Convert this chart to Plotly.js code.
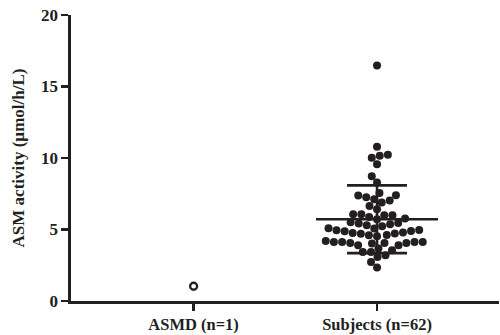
<!DOCTYPE html>
<html>
<head>
<meta charset="utf-8">
<script src="https://cdn.plot.ly/plotly-3.0.1.min.js"></script>
<style>html,body{margin:0;padding:0;background:#fff;}#chart{width:500px;height:335px;}</style>
</head>
<body>
<div id="chart"></div>
<script>
// ---- data ----
const categories = ['ASMD (n=1)', 'Subjects (n=62)'];
const categoryPositions = [1, 2];
const asmdValues = [1.03];
const subjectValues = [
  16.46, 10.78, 10.22, 10.01, 10.15, 9.57, 8.73, 8.29, 7.40, 7.38, 7.56, 7.12, 6.89, 7.03, 7.26, 6.42, 6.65,
  6.07, 6.00, 5.88, 5.77, 5.46, 5.30,
  5.37, 5.42, 5.51, 5.72, 5.99, 6.06,
  5.23, 5.07, 4.95, 4.88, 4.76, 4.72, 4.60,
  4.53, 4.61, 4.71, 4.79, 4.90, 4.96, 5.08,
  4.20, 4.13, 4.13, 4.13, 4.06, 3.90,
  3.90, 4.02, 4.06, 4.06, 4.13,
  3.67, 3.43, 3.43, 3.55, 3.08, 3.20, 2.73, 2.34
];
const yTickValues = [0, 5, 10, 15, 20];
const yTitle = 'ASM activity (µmol/h/L)';

// ---- layout constants ----
const W = 500, H = 335;
const M = {l: 71, r: 1, t: 15, b: 34};
const xRange = [0.3315, 2.665];
const yRange = [0, 20];
const ink = '#231f20';
const dotSize = 8.2;
const sx = (W - M.l - M.r) / (xRange[1] - xRange[0]);
const sy = (H - M.t - M.b) / (yRange[1] - yRange[0]);

// simple beeswarm placement (ascending order, nearest-to-centre free slot)
function beeswarm(values, diam) {
  const idx = values.map((v, i) => i).sort((a, b) => values[a] - values[b]);
  const placed = [];
  const offs = new Array(values.length);
  for (const i of idx) {
    const y = values[i] * sy;
    const cands = [0];
    for (const p of placed) {
      const dy = Math.abs(p.y - y);
      if (dy < diam) {
        const dx = Math.sqrt(diam * diam - dy * dy);
        cands.push(p.x + dx, p.x - dx);
      }
    }
    cands.sort((a, b) => Math.abs(a) - Math.abs(b) || a - b);
    let best = 0;
    for (const c of cands) {
      if (placed.every(p => (p.x - c) ** 2 + (p.y - y) ** 2 >= diam * diam - 1e-6)) { best = c; break; }
    }
    placed.push({x: best, y: y});
    offs[i] = best / sx;
  }
  return offs;
}

const subjOffsets = beeswarm(subjectValues, dotSize);
const subjX = subjOffsets.map(o => categoryPositions[1] + o);

const n = subjectValues.length;
const mean = subjectValues.reduce((a, b) => a + b, 0) / n;
const sd = Math.sqrt(subjectValues.reduce((a, b) => a + (b - mean) ** 2, 0) / (n - 1));

const meanHalf = 61 / sx;
const capHalf = 30 / sx;
const cx = categoryPositions[1];

const lineStyle = {color: ink, width: 2.6};
const traces = [
  {type: 'scatter', mode: 'markers', x: subjX, y: subjectValues,
   marker: {size: 8, color: ink, line: {width: 0}}, hoverinfo: 'y'},
  {type: 'scatter', mode: 'markers', x: asmdValues.map(() => categoryPositions[0]), y: asmdValues,
   marker: {size: 7, color: '#ffffff', line: {width: 2.3, color: ink}}, hoverinfo: 'y'},
  {type: 'scatter', mode: 'lines', x: [cx - meanHalf, cx + meanHalf], y: [mean, mean], line: lineStyle, hoverinfo: 'skip'},
  {type: 'scatter', mode: 'lines', x: [cx - capHalf, cx + capHalf], y: [mean + sd, mean + sd], line: lineStyle, hoverinfo: 'skip'},
  {type: 'scatter', mode: 'lines', x: [cx - capHalf, cx + capHalf], y: [mean - sd, mean - sd], line: lineStyle, hoverinfo: 'skip'},
  {type: 'scatter', mode: 'lines', x: [cx, cx], y: [mean - sd, mean + sd], line: lineStyle, hoverinfo: 'skip'}
];

const font = {family: '"Liberation Serif", "Times New Roman", serif', size: 17, color: ink, weight: 'bold'};
const xFont = Object.assign({}, font, {size: 16.5});

const layout = {
  width: W, height: H,
  margin: M,
  paper_bgcolor: '#ffffff', plot_bgcolor: '#ffffff',
  showlegend: false,
  xaxis: {
    range: xRange, tickvals: categoryPositions, ticktext: categories,
    showline: true, linecolor: ink, linewidth: 2.6,
    ticks: 'outside', ticklen: 7, tickwidth: 2.6, tickcolor: ink,
    showgrid: false, zeroline: false, tickfont: xFont, ticklabelstandoff: 0
  },
  yaxis: {
    range: yRange, tickvals: yTickValues, ticktext: yTickValues.map(String),
    showline: true, linecolor: ink, linewidth: 2.6,
    ticks: 'outside', ticklen: 7, tickwidth: 2.6, tickcolor: ink,
    showgrid: false, zeroline: false, tickfont: font,
    title: {text: yTitle, font: font, standoff: 12}
  }
};

Plotly.newPlot('chart', traces, layout, {displayModeBar: false, staticPlot: true});
</script>
</body>
</html>
